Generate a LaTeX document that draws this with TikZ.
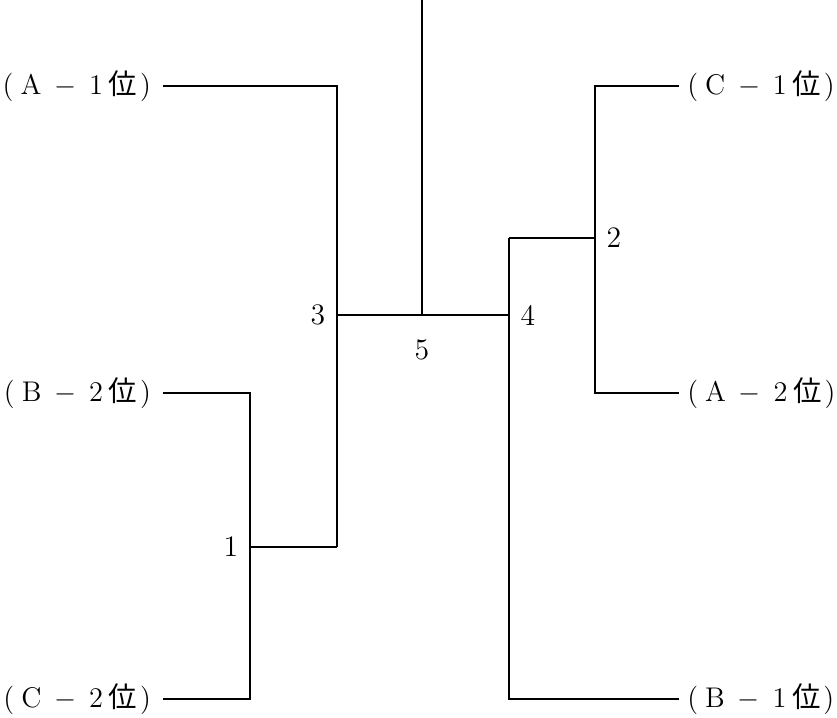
\documentclass[tikz,border=0pt]{standalone}
\usepackage{fontspec}
\newfontfamily\cjk{Noto Sans CJK JP}
\usetikzlibrary{positioning}

% team label: (X - n位)
\newcommand{\rank}[2]{{\fontsize{11}{13}\selectfont(\hspace{.25em}#1\hspace{.45em}$-$\hspace{.45em}#2\hspace{.2em}{\cjk 位}\hspace{.1em})}}

\tikzset{
    lteam/.style={left, inner ysep=2pt, inner xsep=4.5pt},
    rteam/.style={right, inner ysep=2pt, inner xsep=3pt}
}

\begin{document}
\begin{tikzpicture}[x=0.0136cm, y=-0.0136cm, line width=0.4pt,
    font=\fontsize{11.5}{14}\selectfont]
    % Frame
    \useasboundingbox (0,0) rectangle (837,718);

    % Parameters
    \def\lx{163} % left end of the left lines
    \def\rx{679} % right end of the right lines

    % Junctions
    \coordinate (top) at (422,0);
    \coordinate (m5) at (422,315);
    \coordinate (m3) at (337,315);
    \coordinate (m4) at (509,315);
    \coordinate (m1) at (250,547);
    \coordinate (m2) at (595,238);

    % Entries
    \node[lteam] (a1) at (\lx,86)  {\rank{A}{1}};
    \node[lteam] (b2) at (\lx,393) {\rank{B}{2}};
    \node[lteam] (c2) at (\lx,699) {\rank{C}{2}};
    \node[rteam] (c1) at (\rx,86)  {\rank{C}{1}};
    \node[rteam] (a2) at (\rx,393) {\rank{A}{2}};
    \node[rteam] (b1) at (\rx,699) {\rank{B}{1}};

    % Left half
    \draw (b2.east) -| (m1) |- (c2.east);
    \draw (m1) -- (m1 -| m3);
    \draw (a1.east) -| (m3) -- (m1 -| m3);

    % Right half
    \draw (c1.west) -| (m2) |- (a2.west);
    \draw (m2) -- (m2 -| m4);
    \draw (b1.west) -| (m4) -- (m2 -| m4);

    % Final
    \draw (m3) -- (m4);
    \draw (top) -- (m5);

    % Match numbers
    \node[left=1pt of m1] (n1) {1};
    \node[right=1pt of m2] (n2) {2};
    \node[left=1pt of m3] (n3) {3};
    \node[right=1pt of m4] (n4) {4};
    \node[below=6pt of m5] (n5) {5};
\end{tikzpicture}
\end{document}
